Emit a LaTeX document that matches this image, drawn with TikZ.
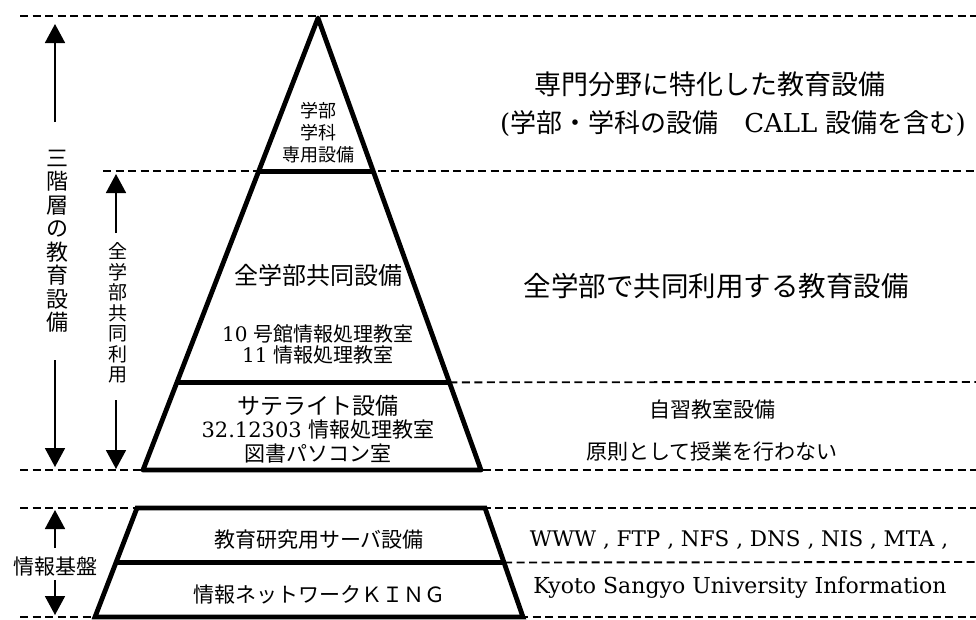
\documentclass[tikz,border=0pt]{standalone}
\usepackage{fontspec}
\setmainfont{DejaVu Serif}
\newfontfamily\jp{Noto Sans CJK JP}
\newcommand\jpsz[2]{\jp\fontsize{#1}{#2}\selectfont}
\newcommand\ltsz[2]{\fontsize{#1}{#2}\selectfont}
\usetikzlibrary{calc}
\usetikzlibrary{arrows.meta}

\begin{document}
\begin{tikzpicture}[x=1pt,y=-1pt,
    tier/.style={line width=4.8pt},
    guide/.style={line width=1.9pt,dash pattern=on 8pt off 4.5pt},
    span/.style={line width=1.8pt,-{Triangle[width=20pt,length=19pt]}},
    txt/.style={inner sep=0pt,align=center}]
\useasboundingbox (0,0) rectangle (976,619);
% pyramid of the three levels
\coordinate (apex) at (318,18);
\coordinate (bl) at (143,470);
\coordinate (br) at (481,470);
\coordinate (l1) at ($(apex)!0.339!(bl)$);
\coordinate (r1) at ($(apex)!0.339!(br)$);
\coordinate (l2) at ($(apex)!0.806!(bl)$);
\coordinate (r2) at ($(apex)!0.806!(br)$);
% base of the network
\coordinate (tl) at (137,508);
\coordinate (tr) at (485,508);
\coordinate (bl2) at (95,617);
\coordinate (br2) at (523,617);
\coordinate (ml) at ($(tl)!0.5!(bl2)$);
\coordinate (mr) at ($(tr)!0.5!(br2)$);
% guide lines
\coordinate (g0) at (20,16);
\coordinate (g1) at (103,171);
\coordinate (g3) at (20,470);
\coordinate (g4) at (20,508);
\coordinate (g6) at (20,617);
\draw[guide] (g0) -- (976,16);
\draw[guide] (g1) -- (976,171);
\draw[guide] (r2) -- (976,382);
\draw[guide] (g3) -- (976,470);
\draw[guide] (g4) -- (976,508);
\draw[guide] (mr) -- (976,562);
\draw[guide] (g6) -- (976,617);
\draw[tier,fill=white,line join=round] (apex) -- (bl) -- (br) -- cycle;
\draw[tier] (l1) -- (r1);
\draw[tier] (l2) -- (r2);
\draw[tier,fill=white] (tl) -- (tr) -- (br2) -- (bl2) -- cycle;
\draw[tier] (ml) -- (mr);
% texts inside
\node[txt,font=\jpsz{18}{22}] (spec) at (318,133) {学部\\学科\\専用設備};
\node[txt,font=\jpsz{24}{26}] (joint) at (318,275) {全学部共同設備};
\node[txt,font=\ltsz{20}{21}] (rooms) at (318,344) {10 {\jp 号館情報処理教室}\\11 {\jp 情報処理教室}};
\node[txt,font=\jpsz{23}{25}] (sat) at (318,406) {サテライト設備};
\node[txt,font=\ltsz{21}{24}] (satroom) at (318,442) {32.12303 {\jp 情報処理教室}\\{\jp 図書パソコン室}};
\node[txt,font=\jpsz{21}{22}] (server) at (319,540) {教育研究用サーバ設備};
\node[txt,font=\jpsz{21}{22}] (king) at (319,595) {情報ネットワークＫＩＮＧ};
% texts on the right
\node[txt,font=\jpsz{27}{28}] (specR) at (710,84) {専門分野に特化した教育設備};
\node[txt,font=\ltsz{26}{28}] (specN) at (733,124) {({\jp 学部・学科の設備　}CALL {\jp 設備を含む})};
\node[txt,font=\jpsz{27.5}{28}] (jointR) at (716,286) {全学部で共同利用する教育設備};
\node[txt,font=\jpsz{21}{22}] (self) at (712,410) {自習教室設備};
\node[txt,font=\jpsz{21}{22}] (rule) at (712,452) {原則として授業を行わない};
\node[txt,font=\ltsz{21.5}{24}] (proto) at (739,540) {WWW , FTP , NFS , DNS , NIS , MTA ,};
\node[txt,font=\ltsz{22}{25}] (ksu) at (740,588) {Kyoto Sangyo University Information};
% spans on the left
\node[txt,font=\jpsz{22}{23.5}] (three) at (57,241) {三\\階\\層\\の\\教\\育\\設\\備};
\node[txt,font=\jpsz{19}{20.5}] (common) at (118,313) {全\\学\\部\\共\\同\\利\\用};
\node[txt,font=\jpsz{21}{22}] (base) at (55,567) {情報基盤};
\coordinate (a1) at (55,122);
\coordinate (a1t) at (55,24);
\coordinate (b1) at (55,360);
\coordinate (b1t) at (55,467);
\coordinate (a2) at (116,233);
\coordinate (a2t) at (116,174);
\coordinate (b2) at (116,400);
\coordinate (b2t) at (116,469);
\coordinate (a3) at (55,548);
\coordinate (a3t) at (55,510);
\coordinate (b3) at (55,580);
\coordinate (b3t) at (55,615);
\draw[span] (a1) -- (a1t);
\draw[span] (b1) -- (b1t);
\draw[span] (a2) -- (a2t);
\draw[span] (b2) -- (b2t);
\draw[span] (a3) -- (a3t);
\draw[span] (b3) -- (b3t);
\end{tikzpicture}
\end{document}
